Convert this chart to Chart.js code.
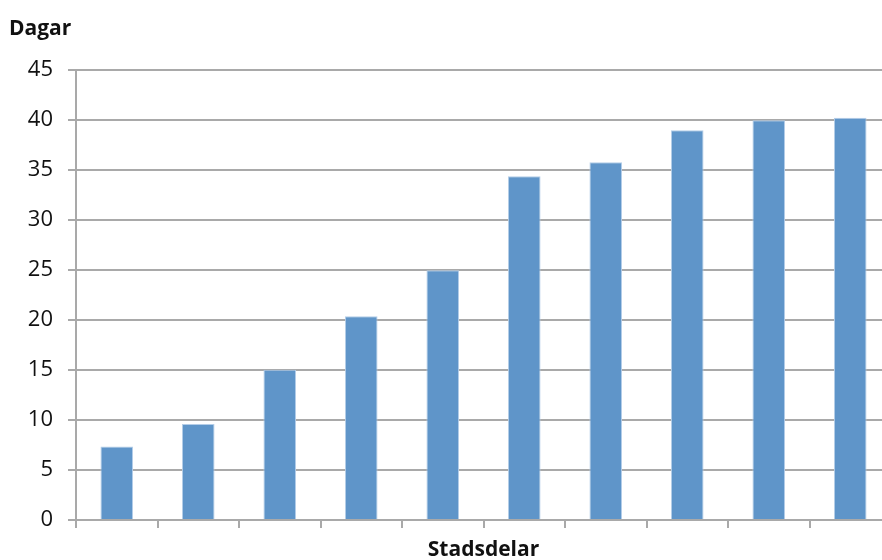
<!DOCTYPE html>
<html>
<head>
<meta charset="utf-8">
<script src="https://cdn.jsdelivr.net/npm/chart.js@4/dist/chart.umd.min.js"></script>
<style>
html,body{margin:0;padding:0;background:#fff;overflow:hidden;width:882px;height:560px;}
#myChart{display:block;}
</style>
</head>
<body>
<canvas id="myChart" width="892" height="560"></canvas>
<script>
// 10 stadsdelar, no names shown on the axis
var categories=['1','2','3','4','5','6','7','8','9','10'];
var dagar=[7.35,9.6,15.05,20.4,25.0,34.4,35.8,39.0,40.0,40.25];
var yTicks=[0,5,10,15,20,25,30,35,40,45];

var gridcol='#a9a9a9';

var ctx=document.getElementById('myChart').getContext('2d');
var myChart=new Chart(ctx,{
	type:'bar',
	data:{
		labels:categories,
		datasets:[{
			label:'Dagar',
			data:dagar,
			backgroundColor:'#5f95c9',
			borderColor:'#b4cde8',
			borderWidth:1,
			barPercentage:0.4,
			categoryPercentage:1
		}]
	},
	options:{
		responsive:false,
		animation:false,
		layout:{padding:{left:9,right:1,top:0,bottom:0}},
		plugins:{
			legend:{display:false},
			tooltip:{enabled:false},
			title:{
				display:true,
				text:'Dagar',
				align:'start',
				color:'#111',
				font:{family:'Open Sans',size:21,weight:'bold'},
				padding:{top:16,bottom:29}
			}
		},
		scales:{
			x:{
				grid:{
					display:true,
					drawOnChartArea:false,
					drawTicks:true,
					tickLength:8,
					color:gridcol,
					lineWidth:2
				},
				border:{color:gridcol,width:2},
				ticks:{display:false},
				title:{
					display:true,
					text:'Stadsdelar',
					color:'#111',
					font:{family:'Open Sans',size:21,weight:'bold',lineHeight:0.9},
					padding:{top:12,bottom:1}
				}
			},
			y:{
				min:0,
				max:45,
				afterBuildTicks:function(axis){
					axis.ticks=yTicks.map(function(v){return {value:v};});
				},
				afterFit:function(axis){
					axis.width=67;
				},
				grid:{
					color:gridcol,
					lineWidth:2,
					tickLength:8
				},
				border:{color:gridcol,width:2},
				ticks:{
					color:'#111',
					padding:15,
					font:{family:'Open Sans',size:22}
				}
			}
		}
	}
});
</script>
</body>
</html>
